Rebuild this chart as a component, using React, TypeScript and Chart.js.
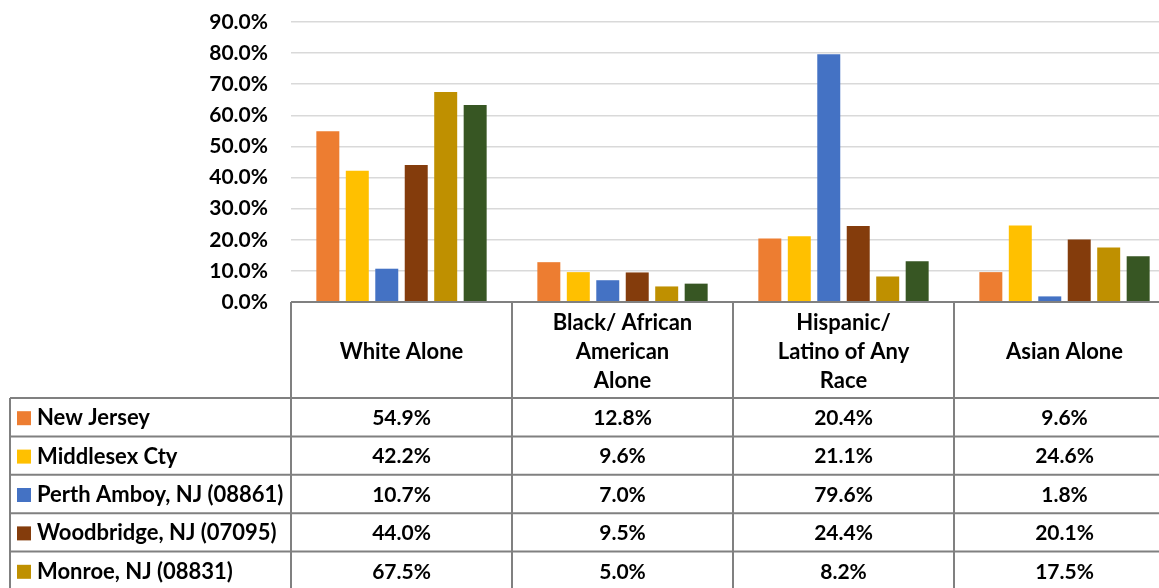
import React, { useEffect, useRef } from "react";
import { Chart, registerables } from "chart.js";

Chart.register(...registerables);

const categories: string[][] = [
  ["White Alone"],
  ["Black/ African", "American", "Alone"],
  ["Hispanic/", "Latino of Any", "Race"],
  ["Asian Alone"],
];

const seriesNames = [
  "New Jersey",
  "Middlesex Cty",
  "Perth Amboy, NJ (08861)",
  "Woodbridge, NJ (07095)",
  "Monroe, NJ (08831)",
  "Edison, NJ (08817)",
];

const newJersey = [54.9, 12.8, 20.4, 9.6];
const middlesex = [42.2, 9.6, 21.1, 24.6];
const perthAmboy = [10.7, 7.0, 79.6, 1.8];
const woodbridge = [44.0, 9.5, 24.4, 20.1];
const monroe = [67.5, 5.0, 8.2, 17.5];
const edison = [63.3, 5.9, 13.1, 14.7];

const seriesValues = [newJersey, middlesex, perthAmboy, woodbridge, monroe, edison];
const seriesColors = ["#ED7D31", "#FFC000", "#4472C4", "#843C0C", "#BF9000", "#375623"];

const yTicks = [0, 10, 20, 30, 40, 50, 60, 70, 80, 90];

const FONT = "Lato, 'Open Sans', sans-serif";

const tablePlugin = {
  id: "dataTable",
  afterDraw(chart: any) {
    const ctx = chart.ctx as CanvasRenderingContext2D;
    const area = chart.chartArea;
    const n = categories.length;
    const cw = (area.right - area.left) / n;
    const top = area.bottom;
    const headerH = 96;
    const rowH = 38.4;
    const tableLeft = 10;
    const rowsTop = top + headerH;
    const bottom = rowsTop + rowH * seriesNames.length;
    const right = area.right + 40;

    ctx.save();
    ctx.strokeStyle = "#808080";
    ctx.lineWidth = 2;
    const line = (x1: number, y1: number, x2: number, y2: number) => {
      ctx.beginPath();
      ctx.moveTo(x1, y1);
      ctx.lineTo(x2, y2);
      ctx.stroke();
    };
    line(area.left, top, right, top);
    for (let i = 0; i <= n; i++) {
      const xx = area.left + i * cw;
      line(xx, top, xx, bottom);
    }
    line(tableLeft, rowsTop, tableLeft, bottom);
    for (let r = 0; r <= seriesNames.length; r++) {
      const yy = rowsTop + r * rowH;
      line(tableLeft, yy, right, yy);
    }

    ctx.fillStyle = "#000000";
    ctx.font = `bold 22px ${FONT}`;
    ctx.textAlign = "center";
    ctx.textBaseline = "middle";
    const lh = 29;
    categories.forEach((lines, i) => {
      const cx = area.left + (i + 0.5) * cw;
      const cy = top + headerH / 2 + 2;
      const start = cy - ((lines.length - 1) * lh) / 2;
      lines.forEach((t, k) => ctx.fillText(t, cx, start + k * lh));
    });

    seriesNames.forEach((name, r) => {
      const cy = rowsTop + r * rowH + rowH / 2 + 1;
      ctx.fillStyle = seriesColors[r];
      ctx.fillRect(17, cy - 7, 14, 14);
      ctx.fillStyle = "#000000";
      ctx.textAlign = "left";
      ctx.font = `bold 22px ${FONT}`;
      ctx.fillText(name, 37, cy);
      ctx.textAlign = "center";
      ctx.font = `bold 21px ${FONT}`;
      seriesValues[r].forEach((v, i) => {
        const cx = area.left + (i + 0.5) * cw;
        ctx.fillText(v.toFixed(1) + "%", cx, cy);
      });
    });
    ctx.restore();
  },
};

export default function App() {
  const ref = useRef<HTMLCanvasElement>(null);
  useEffect(() => {
    if (!ref.current) return;
    const chart = new Chart(ref.current, {
      type: "bar",
      data: {
        labels: categories.map((c) => c.join(" ")),
        datasets: seriesNames.map((name, i) => ({
          label: name,
          data: seriesValues[i],
          backgroundColor: seriesColors[i],
          borderWidth: 0,
          categoryPercentage: 0.8,
          barPercentage: 0.78,
        })),
      },
      options: {
        animation: false,
        responsive: false,
        layout: { padding: { left: 0, right: 25, top: 22, bottom: 640 - 302 } },
        plugins: { legend: { display: false }, tooltip: { enabled: false } },
        scales: {
          x: { display: false },
          y: {
            min: 0,
            max: 90,
            afterFit: (s: any) => {
              s.width = 291;
              s.paddingTop = 0;
              s.paddingBottom = 0;
            },
            afterBuildTicks: (s: any) => {
              s.ticks = yTicks.map((v) => ({ value: v }));
            },
            border: { display: false },
            grid: { color: "#d9d9d9", lineWidth: 1.5, drawTicks: false },
            ticks: {
              padding: 23,
              color: "#000000",
              font: { family: FONT, size: 21, weight: "bold" },
              callback: (v: any) => Number(v).toFixed(1) + "%",
            },
          },
        },
      },
      plugins: [tablePlugin],
    });
    return () => chart.destroy();
  }, []);
  return (
    <div style={{ position: "fixed", left: 0, top: 0, width: 1200, height: 640, background: "#fff" }}>
      <canvas ref={ref} width={1200} height={640} style={{ width: 1200, height: 640 }} />
    </div>
  );
}
